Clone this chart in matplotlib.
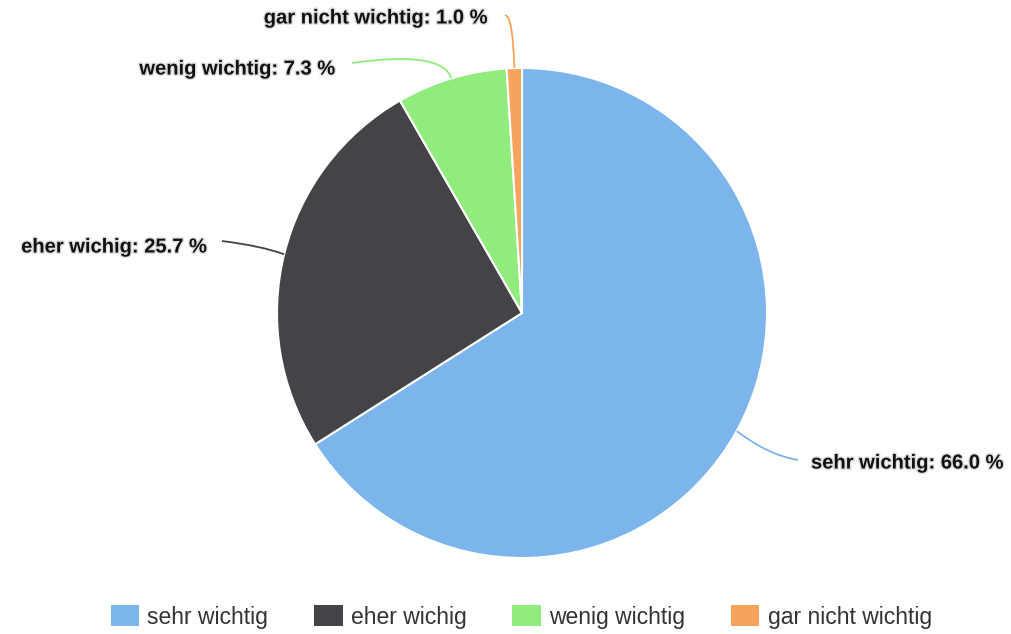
"""Pie chart: Wichtigkeit (sehr / eher / wenig / gar nicht)."""

import numpy as np
import matplotlib
matplotlib.use("Agg")
import matplotlib.pyplot as plt
from matplotlib.path import Path
from matplotlib.patches import PathPatch, Patch
import matplotlib.patheffects as pe

categories = ["sehr wichtig", "eher wichig", "wenig wichtig", "gar nicht wichtig"]
values = [66.0, 25.7, 7.3, 1.0]
colors = ["#7cb5ec", "#434348", "#90ed7d", "#f7a35c"]

# label anchor (pixel coords), curve control point, text alignment
label_pos = [(811, 463), (207, 247), (335, 69), (487, 18)]
conn_start = [(798, 460), (222, 241), (352, 63), (505, 15)]
conn_ctrl = [(768, 455), (262, 246), (442, 50), (513, 16)]
label_ha = ["left", "right", "right", "right"]

plt.rcParams["font.family"] = ["Liberation Sans", "DejaVu Sans"]

fig = plt.figure(figsize=(10.12, 6.34), dpi=100)
ax = fig.add_axes([0, 0, 1, 1])

cx, cy, r = 522, 313, 245
wedges, _ = ax.pie(values, colors=colors, center=(cx, cy), radius=r,
                   startangle=-90, counterclock=True,
                   wedgeprops=dict(edgecolor="white", linewidth=1.5))
ax.set_xlim(0, 1012)
ax.set_ylim(634, 0)
ax.set_aspect("equal")
ax.axis("off")

for w, val, cat, col, lp, cs, cc, ha in zip(wedges, values, categories, colors,
                                            label_pos, conn_start, conn_ctrl, label_ha):
    mid = np.deg2rad((w.theta1 + w.theta2) / 2)
    ex, ey = cx + r * np.cos(mid), cy + r * np.sin(mid)
    path = Path([cs, cc, (ex, ey)], [Path.MOVETO, Path.CURVE3, Path.CURVE3])
    ax.add_patch(PathPatch(path, facecolor="none", edgecolor=col, lw=1.3))
    ax.text(lp[0], lp[1], f"{cat}: {val:.1f} %", ha=ha, va="center",
            fontsize=14.5, fontweight="bold", color="#111111",
            path_effects=[pe.withStroke(linewidth=2, foreground="#dddddd")])

handles = [Patch(facecolor=c, edgecolor="none") for c in colors]
ax.legend(handles, categories, loc="lower center", bbox_to_anchor=(0.515, -0.024),
          ncol=4, frameon=False, fontsize=16.5, handlelength=1.25, handleheight=1.05,
          handletextpad=0.35, columnspacing=2.0, labelcolor="#333333")

fig.savefig("out.png", dpi=100)
